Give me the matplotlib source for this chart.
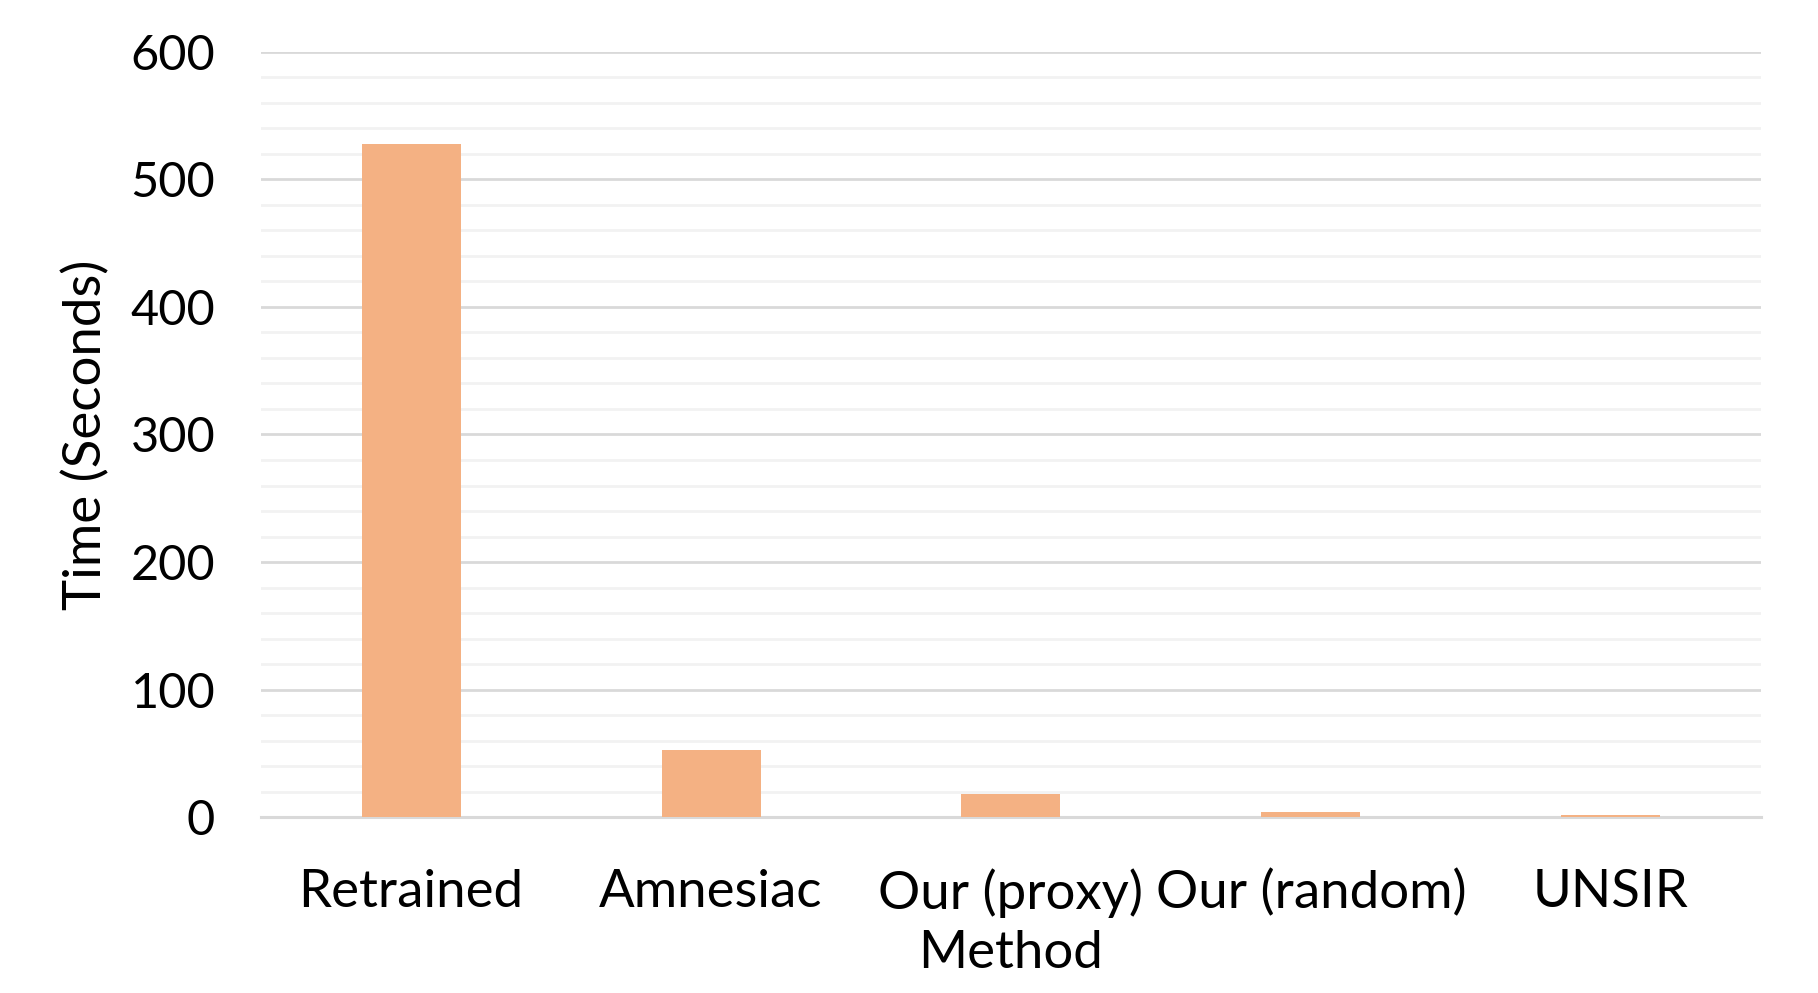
import numpy as np
import matplotlib.pyplot as plt
from matplotlib.ticker import MultipleLocator

methods = ['Retrained', 'Amnesiac', 'Our (proxy)', 'Our (random)', 'UNSIR']
times = [528, 53, 18, 4.2, 2]

plt.rcParams['font.family'] = ['Lato', 'DejaVu Sans']

fig = plt.figure(figsize=(18.18, 9.93), dpi=100)
ax = fig.add_axes([0.1436, 0.1769, 0.825, 0.7711])

x = np.arange(len(methods))
ax.bar(x, times, width=0.33, color='#F4B183', zorder=3)

ax.set_xlim(-0.5, len(methods) - 0.5)
ax.set_ylim(0, 600)
ax.yaxis.set_major_locator(MultipleLocator(100))
ax.yaxis.set_minor_locator(MultipleLocator(20))
ax.grid(which='major', axis='y', color='#D9D9D9', linewidth=2, zorder=1)
ax.grid(which='minor', axis='y', color='#F2F2F2', linewidth=2, zorder=0)

for s in ['top', 'right', 'left']:
    ax.spines[s].set_visible(False)
ax.spines['bottom'].set_color('#D9D9D9')
ax.spines['bottom'].set_linewidth(2.2)
ax.spines['bottom'].set_zorder(2)

ax.tick_params(axis='y', which='both', length=0, labelsize=35, pad=33)
ax.tick_params(axis='x', which='both', length=0, labelsize=38, pad=37)
ax.set_xticks(x)
ax.set_xticklabels(methods)

ax.set_ylabel('Time (Seconds)', fontsize=38)
ax.yaxis.set_label_coords(-0.1007, 0.5)
ax.set_xlabel('Method', fontsize=38)
ax.xaxis.set_label_coords(0.5, -0.147)

fig.savefig('out.png', dpi=100)
